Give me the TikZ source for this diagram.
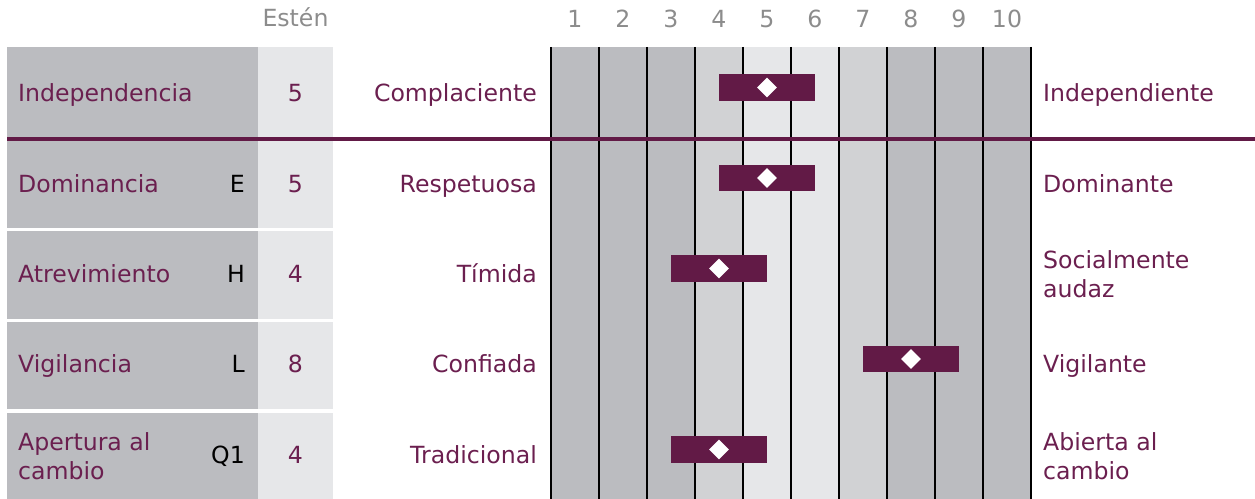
\documentclass[tikz,border=0pt]{standalone}
\usepackage{fontspec}
\setmainfont{DejaVu Sans}
\usetikzlibrary{math,shapes.geometric}

\definecolor{plum}{HTML}{621A46}
\definecolor{plumtext}{HTML}{6B1F4F}
\definecolor{darkcol}{HTML}{BBBCC0}
\definecolor{midcol}{HTML}{D1D2D4}
\definecolor{lightcol}{HTML}{E6E7E9}
\definecolor{headgray}{HTML}{8C8C8C}

\tikzset{
  txt/.style={font=\fontsize{23.7}{29.5}\selectfont, inner sep=0pt, text=plumtext},
  bar/.style={fill=plum, minimum width=97, minimum height=27, inner sep=0pt},
  dia/.style={diamond, fill=white, minimum width=20, minimum height=20, inner sep=0pt}
}

\begin{document}
\begin{tikzpicture}[x=1bp, y=-1bp]
  \tikzmath{\g = 551; \w = 48; \t = 47; \b = 499;}
  \useasboundingbox (0,0) rectangle (1255,499);

  % scale columns
  \fill[darkcol] (\g, \t) rectangle ++(3*\w, \b-\t);
  \fill[midcol] (\g+3*\w, \t) rectangle ++(\w, \b-\t);
  \fill[lightcol] (\g+4*\w, \t) rectangle ++(2*\w, \b-\t);
  \fill[midcol] (\g+6*\w, \t) rectangle ++(\w, \b-\t);
  \fill[darkcol] (\g+7*\w, \t) rectangle ++(3*\w, \b-\t);
  \foreach \k in {0,...,10}
    \draw[black, line width=1.3] (\g+\k*\w, \t) -- ++(0, \b-\t);

  % scale numbers
  \foreach \k in {1,...,10}
    \node[txt, text=headgray, anchor=base] (n\k) at (\g+\k*\w-\w/2, 28) {\k};
  \node[txt, text=headgray, anchor=base] (sten) at (295.5, 27) {Estén};

  % factor and sten boxes
  \fill[darkcol] (7, 47) rectangle (258, 137);
  \fill[lightcol] (258, 47) rectangle (333, 137);
  \fill[darkcol] (7, 141) rectangle (258, 228);
  \fill[lightcol] (258, 141) rectangle (333, 228);
  \fill[darkcol] (7, 231) rectangle (258, 319);
  \fill[lightcol] (258, 231) rectangle (333, 319);
  \fill[darkcol] (7, 322) rectangle (258, 409);
  \fill[lightcol] (258, 322) rectangle (333, 409);
  \fill[darkcol] (7, 413) rectangle (258, 499);
  \fill[lightcol] (258, 413) rectangle (333, 499);

  % global factor rule
  \draw[plum, line width=3.5] (7, 139) -- (1255, 139);

  % independencia
  \node[txt, anchor=base west] (ind) at (18, 102) {Independencia};
  \node[txt, anchor=base] (ind s) at (295.5, 102) {5};
  \node[txt, anchor=base east] (ind lo) at (537, 102) {Complaciente};
  \node[txt, anchor=base west] (ind hi) at (1043, 102) {Independiente};
  \node[bar] (ind bar) at (\g+5*\w-\w/2, 87.5) {};
  \node[dia] (ind dia) at (ind bar) {};

  % dominancia
  \node[txt, anchor=base west] (dom) at (18, 193) {Dominancia};
  \node[txt, text=black, anchor=base east] (dom k) at (245, 193) {E};
  \node[txt, anchor=base] (dom s) at (295.5, 193) {5};
  \node[txt, anchor=base east] (dom lo) at (537, 193) {Respetuosa};
  \node[txt, anchor=base west] (dom hi) at (1043, 193) {Dominante};
  \node[bar] (dom bar) at (\g+5*\w-\w/2, 178) {};
  \node[dia] (dom dia) at (dom bar) {};

  % atrevimiento
  \node[txt, anchor=base west] (atr) at (18, 283) {Atrevimiento};
  \node[txt, text=black, anchor=base east] (atr k) at (245, 283) {H};
  \node[txt, anchor=base] (atr s) at (295.5, 283) {4};
  \node[txt, anchor=base east] (atr lo) at (537, 283) {Tímida};
  \node[txt, anchor=west, align=left] (atr hi) at (1043, 274.5) {Socialmente\\audaz};
  \node[bar] (atr bar) at (\g+4*\w-\w/2, 268.5) {};
  \node[dia] (atr dia) at (atr bar) {};

  % vigilancia
  \node[txt, anchor=base west] (vig) at (18, 373) {Vigilancia};
  \node[txt, text=black, anchor=base east] (vig k) at (245, 373) {L};
  \node[txt, anchor=base] (vig s) at (295.5, 373) {8};
  \node[txt, anchor=base east] (vig lo) at (537, 373) {Confiada};
  \node[txt, anchor=base west] (vig hi) at (1043, 373) {Vigilante};
  \node[bar] (vig bar) at (\g+8*\w-\w/2, 359) {};
  \node[dia] (vig dia) at (vig bar) {};

  % apertura al cambio
  \node[txt, anchor=west, align=left] (ape) at (18, 456) {Apertura al\\cambio};
  \node[txt, text=black, anchor=base east] (ape k) at (245, 463) {Q1};
  \node[txt, anchor=base] (ape s) at (295.5, 463) {4};
  \node[txt, anchor=base east] (ape lo) at (537, 463) {Tradicional};
  \node[txt, anchor=west, align=left] (ape hi) at (1043, 456) {Abierta al\\cambio};
  \node[bar] (ape bar) at (\g+4*\w-\w/2, 449.5) {};
  \node[dia] (ape dia) at (ape bar) {};

\end{tikzpicture}
\end{document}
